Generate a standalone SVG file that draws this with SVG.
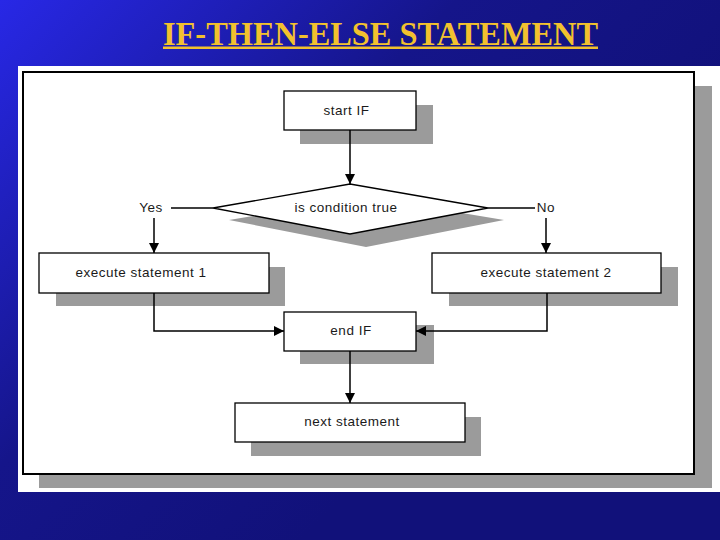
<svg xmlns="http://www.w3.org/2000/svg" width="720" height="540" viewBox="0 0 720 540">
<defs>
<linearGradient id="bg" x1="0" y1="0" x2="0.75" y2="0.55">
<stop offset="0" stop-color="#2828e6"/>
<stop offset="0.55" stop-color="#15158a"/>
<stop offset="1" stop-color="#11117a"/>
</linearGradient>
<marker id="ah" viewBox="0 0 10 10" refX="10" refY="5" markerWidth="10" markerHeight="10" markerUnits="userSpaceOnUse" orient="auto">
<path d="M0,0 L10,5 L0,10 Z" fill="#000"/>
</marker>
<style>
.box{fill:#fff;stroke:#000;stroke-width:1.3}
.shd{fill:#9b9b9b}
.lbl{font-family:"Liberation Sans",Arial,sans-serif;font-size:13.5px;letter-spacing:0.5px;fill:#1a1a1a;text-anchor:middle}
.con{fill:none;stroke:#000;stroke-width:1.5}
</style>
</defs>
<rect x="0" y="0" width="720" height="540" fill="url(#bg)"/>
<text x="163" y="45" font-family="Liberation Serif,'Times New Roman',serif" font-weight="bold" font-size="34" fill="#f2c12e" textLength="435" lengthAdjust="spacingAndGlyphs">IF-THEN-ELSE STATEMENT</text>
<rect x="163" y="46.5" width="435" height="2.5" fill="#f2c12e"/>
<rect x="18" y="66" width="702" height="426" fill="#fff"/>
<rect x="39" y="86" width="673" height="402" class="shd"/>
<rect x="23" y="72" width="671" height="402" fill="#fff" stroke="#000" stroke-width="2"/>

<g id="start-if">
<rect x="300" y="105" width="133" height="39" class="shd"/>
<rect x="284" y="91" width="132" height="39" class="box"/>
<text x="346.5" y="115" class="lbl">start IF</text>
</g>
<g id="condition">
<polygon points="229,220 366,197 504,220 366,247" class="shd"/>
<polygon points="213,208 350,184 488,208 350,234" class="box"/>
<text x="346" y="212" class="lbl">is condition true</text>
</g>
<g id="yes-label"><text x="151" y="212" class="lbl">Yes</text></g>
<g id="no-label"><text x="546" y="212" class="lbl">No</text></g>
<g id="exec1">
<rect x="56" y="267" width="229" height="39" class="shd"/>
<rect x="39" y="253" width="230" height="40" class="box"/>
<text x="141" y="277" class="lbl">execute statement 1</text>
</g>
<g id="exec2">
<rect x="449" y="267" width="229" height="39" class="shd"/>
<rect x="432" y="253" width="229" height="40" class="box"/>
<text x="546" y="277" class="lbl">execute statement 2</text>
</g>
<g id="end-if">
<rect x="300" y="325" width="134" height="39" class="shd"/>
<rect x="284" y="312" width="132" height="39" class="box"/>
<text x="351" y="335" class="lbl">end IF</text>
</g>
<g id="next">
<rect x="251" y="417" width="230" height="39" class="shd"/>
<rect x="235" y="403" width="230" height="39" class="box"/>
<text x="352" y="426" class="lbl">next statement</text>
</g>

<g id="connectors">
<path d="M350,130 V184" class="con" marker-end="url(#ah)"/>
<path d="M213,208 H171" class="con"/>
<path d="M154,218 V253" class="con" marker-end="url(#ah)"/>
<path d="M488,208 H535" class="con"/>
<path d="M546,218 V253" class="con" marker-end="url(#ah)"/>
<path d="M154,293 V331 H284" class="con" marker-end="url(#ah)"/>
<path d="M547,293 V331 H416" class="con" marker-end="url(#ah)"/>
<path d="M350,351 V403" class="con" marker-end="url(#ah)"/>
</g>
</svg>
